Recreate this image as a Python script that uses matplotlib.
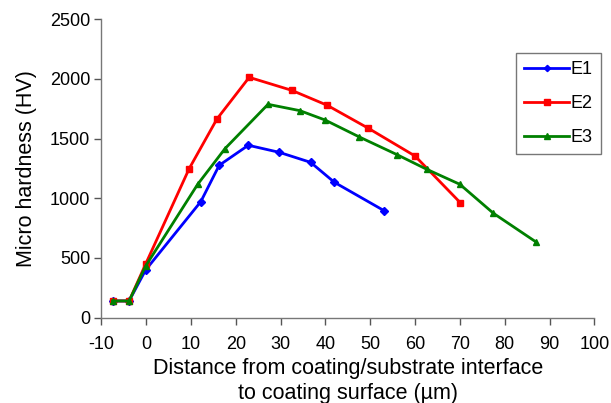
import matplotlib
matplotlib.use("Agg")
from matplotlib import pyplot as plt

plt.rcParams['font.family'] = ['Liberation Sans', 'DejaVu Sans']
plt.rcParams['axes.unicode_minus'] = False

# hardness profiles across the coating
x_e1 = [-7.5, -3.8, -0.1, 12.2, 16.3, 22.8, 29.7, 36.7, 42.0, 53.1]
hv_e1 = [140, 140, 400, 972, 1276, 1444, 1385, 1301, 1134, 896]

x_e2 = [-7.5, -3.8, -0.1, 9.6, 15.8, 23.0, 32.5, 40.4, 49.6, 60.0, 70.1]
hv_e2 = [140, 140, 450, 1248, 1664, 2013, 1904, 1779, 1586, 1354, 963]

x_e3 = [-7.5, -3.8, -0.1, 11.5, 17.6, 27.2, 34.3, 39.9, 47.6, 56.0, 62.6, 70.0, 77.5, 87.0]
hv_e3 = [140, 140, 433, 1117, 1416, 1787, 1734, 1656, 1513, 1365, 1243, 1117, 874, 634]

xticks = [-10, 0, 10, 20, 30, 40, 50, 60, 70, 80, 90, 100]
yticks = [0, 500, 1000, 1500, 2000, 2500]

fig = plt.figure(figsize=(6.11, 4.03), dpi=100)
ax = fig.add_axes([0.1658, 0.2117, 0.8069, 0.7407])

ax.plot(x_e1, hv_e1, color='#0000ff', lw=2.0, marker='D', ms=4, label='E1')
ax.plot(x_e2, hv_e2, color='#ff0000', lw=2.0, marker='s', ms=5, label='E2')
ax.plot(x_e3, hv_e3, color='#008000', lw=2.0, marker='^', ms=5, label='E3')

ax.set_xlim(-10, 100)
ax.set_ylim(0, 2500)
ax.set_xticks(xticks)
ax.set_yticks(yticks)
ax.tick_params(labelsize=13, color='#555555', length=5, width=1)
ax.tick_params(axis='x', pad=8)
ax.tick_params(axis='y', pad=3)
for side in ['top', 'right']:
    ax.spines[side].set_visible(False)
for side in ['left', 'bottom']:
    ax.spines[side].set_color('#777777')
    ax.spines[side].set_linewidth(1)

ax.set_xlabel("Distance from coating/substrate interface\nto coating surface (\u00b5m)",
              fontsize=15.5, labelpad=4, linespacing=1.25)
ax.set_ylabel("Micro hardness (HV)", fontsize=15.5, labelpad=9)

leg = ax.legend(loc='upper right', bbox_to_anchor=(0.983, 0.869),
                bbox_transform=fig.transFigure, borderaxespad=0,
                fontsize=13, fancybox=False, handlelength=2.45,
                labelspacing=0.95, handletextpad=0.1, markerscale=0.8,
                borderpad=0.45)
leg.get_frame().set_edgecolor('#555555')
leg.get_frame().set_linewidth(1)

fig.savefig("out.png", dpi=100)
